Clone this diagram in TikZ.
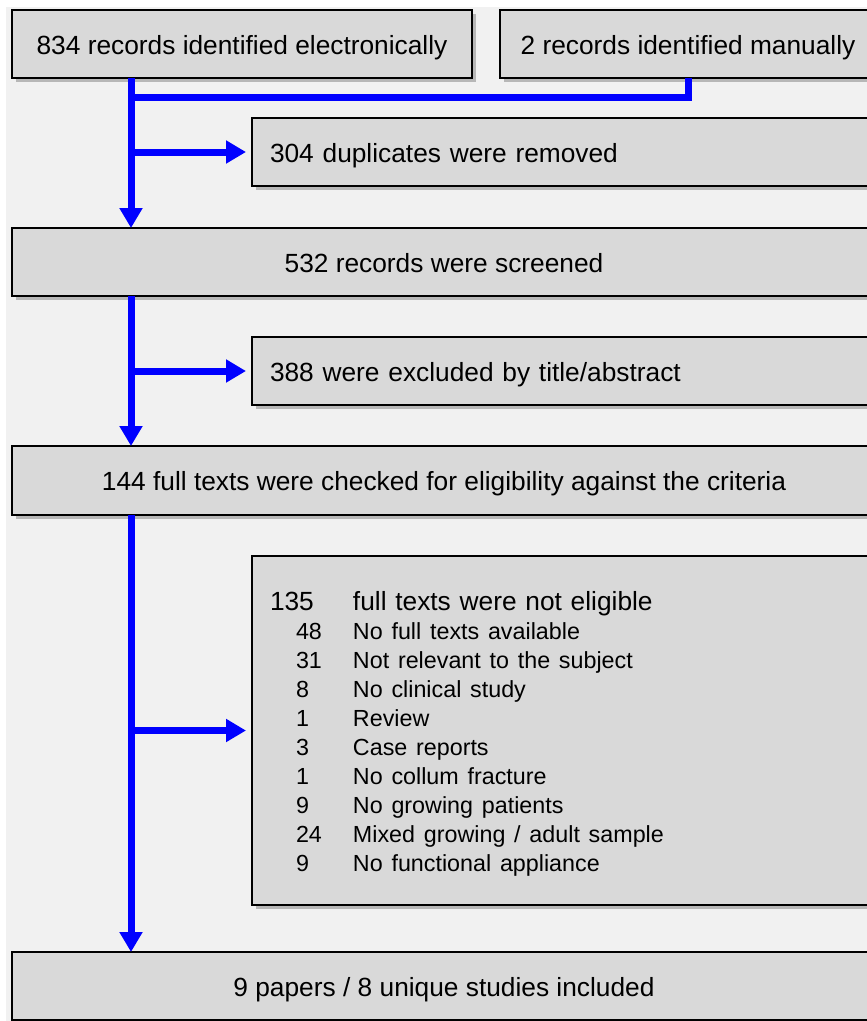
\documentclass[tikz,border=0pt]{standalone}
\usepackage{fontspec}
\setmainfont{Liberation Sans}
\usetikzlibrary{arrows.meta,shadows,positioning}
\definecolor{boxgray}{HTML}{D9D9D9}
\definecolor{bggray}{HTML}{F1F1F1}
\definecolor{flowblue}{HTML}{0000FF}

\tikzset{
  stage/.style={draw=black, line width=1.5pt, fill=boxgray, anchor=north west,
    minimum height=68pt, inner sep=0pt, outer sep=0pt,
    text height=20.6pt, text depth=0pt,
    font=\fontsize{26.3}{31}\selectfont,
    drop shadow={shadow xshift=4pt, shadow yshift=-4pt, opacity=0.35, fill=black!70}},
  sidestage/.style={stage, minimum width=624pt, text width=588pt, align=left},
  widestage/.style={stage, minimum width=864pt},
  flowline/.style={draw=flowblue, line width=7pt},
  flow/.style={flowline, -{Triangle[width=22pt,length=20pt]}},
}

\begin{document}
\begin{tikzpicture}[x=1pt,y=-1pt]
    \useasboundingbox (0,0) rectangle (867,1021);
    \clip (0,0) rectangle (867,1021);
    \fill[bggray] (6,7) rectangle (867,1021);

    \node[stage, minimum width=460pt] (elec) at (12,10) {834 records identified electronically};
    \node[stage, minimum width=376pt] (manual) at (500,10) {2 records identified manually};
    \node[sidestage] (dup) at (252,118) {304 duplicates were removed};
    \node[widestage] (screen) at (12,228) {532 records were screened};
    \node[sidestage] (excl) at (252,337) {388 were excluded by title/abstract};
    \node[widestage, minimum height=69pt] (full) at (12,446) {144 full texts were checked for eligibility against the criteria};
    \node[sidestage, minimum height=349pt, text height=, text depth=] (noelig) at (252,556) {%
      \raisebox{-5pt}[\height][\depth]{\fontsize{23.3}{29}\selectfont
      \begin{tabular}{@{}p{83pt}@{}l@{}}
        {\fontsize{26.3}{29}\selectfont 135} & {\fontsize{26.3}{29}\selectfont full texts were not eligible}\\
        \hspace*{26pt}48 & No full texts available\\
        \hspace*{26pt}31 & Not relevant to the subject\\
        \hspace*{26pt}8  & No clinical study\\
        \hspace*{26pt}1  & Review\\
        \hspace*{26pt}3  & Case reports\\
        \hspace*{26pt}1  & No collum fracture\\
        \hspace*{26pt}9  & No growing patients\\
        \hspace*{26pt}24 & Mixed growing / adult sample\\
        \hspace*{26pt}9  & No functional appliance
      \end{tabular}}};
    \node[widestage] (incl) at (12,952) {9 papers / 8 unique studies included};

    \coordinate (trunk) at (131,0);
    \coordinate (join) at (131,97);

    \draw[flowline] (manual.south) |- (join);
    \draw[flow] (elec.south -| trunk) -- (screen.north -| trunk);
    \draw[flow, shorten >=6pt] (trunk |- dup.west) -- (dup.west);
    \draw[flow] (screen.south -| trunk) -- (full.north -| trunk);
    \draw[flow, shorten >=6pt] (trunk |- excl.west) -- (excl.west);
    \draw[flow] (full.south -| trunk) -- (incl.north -| trunk);
    \draw[flow, shorten >=6pt] (trunk |- noelig.west) -- (noelig.west);
\end{tikzpicture}
\end{document}
